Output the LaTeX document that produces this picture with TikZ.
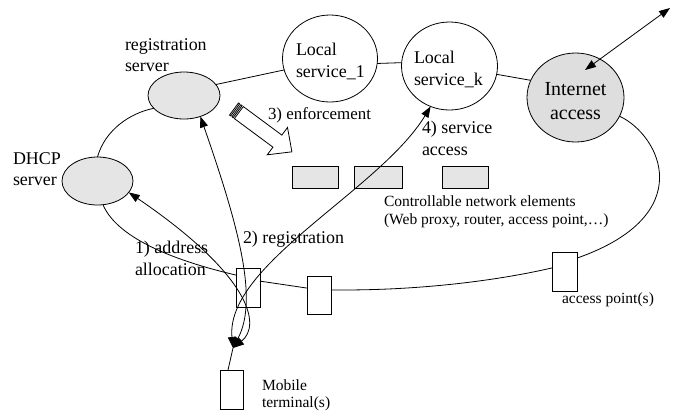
\documentclass[tikz,border=0pt]{standalone}
\usepackage{fontspec}
\setmainfont{Liberation Serif}[Ligatures=TeX]
\newfontfamily\tms{Liberation Serif}
\usetikzlibrary{shapes.geometric,arrows.meta,calc}
\definecolor{srvgray}{gray}{0.9}
\definecolor{inetgray}{gray}{0.87}
\begin{document}
\begin{tikzpicture}[x=1bp,y=-1bp,line width=0.8bp,
  every node/.style={inner sep=0pt,outer sep=0pt},
  srv/.style={ellipse,draw,fill=srvgray},
  svc/.style={ellipse,draw,fill=white},
  bigtxt/.style={font=\tms\fontsize{18}{21}\selectfont,anchor=base west},
  midtxt/.style={font=\tms\fontsize{17}{20}\selectfont,anchor=base west},
  smalltxt/.style={font=\tms\fontsize{15.6}{18}\selectfont,anchor=base west},
  inettxt/.style={font=\tms\fontsize{20}{24}\selectfont,anchor=base},
  boxnode/.style={rectangle,draw,minimum width=24bp,minimum height=39bp},
  nelem/.style={rectangle,draw,fill=srvgray,minimum height=22bp},
  tipped/.style={{Triangle[length=11bp,width=8bp]}-{Triangle[length=11bp,width=8bp]}}
]
\useasboundingbox (0,0) rectangle (678,411);

% servers and services
\node[srv,minimum width=72bp,minimum height=47bp] (reg) at (184,95.5) {};
\node[srv,minimum width=71bp,minimum height=48bp] (dhcp) at (97.5,181) {};
\node[svc,minimum width=95bp,minimum height=87bp] (ls1) at (330,58.5) {};
\node[svc,minimum width=96bp,minimum height=88bp] (lsk) at (449.5,66) {};
\node[ellipse,draw,fill=inetgray,minimum width=97bp,minimum height=89bp] (inet) at (575.5,97.5) {};

% network element boxes
\node[nelem,minimum width=46bp] (ne1) at (315,177) {};
\node[nelem,minimum width=48bp] (ne2) at (378,177) {};
\node[nelem,minimum width=46bp] (ne3) at (465,177) {};

% access points and terminal
\node[boxnode,minimum width=25bp] (ap) at (564.5,271.5) {};
\node[boxnode,minimum height=38bp] (mb) at (319,295) {};
\node[boxnode] (lb) at (248,287.5) {};
\node[boxnode,minimum width=23bp] (term) at (231.5,389.5) {};

% texts
\node[bigtxt] (tr1) at (125,50) {registration};
\node[bigtxt] (tr2) at (125,71) {server};
\node[bigtxt] (td1) at (13,164) {DHCP};
\node[bigtxt] (td2) at (13,185) {server};
\node[bigtxt] (tl1) at (296,55) {Local};
\node[bigtxt] (tl2) at (296,77) {service\_1};
\node[bigtxt] (tk1) at (414,63) {Local};
\node[bigtxt] (tk2) at (414,85) {service\_k};
\node[inettxt] (ti1) at (575.5,95) {Internet};
\node[inettxt] (ti2) at (575.5,119) {access};
\node[midtxt] (t3) at (268,119) {3) enforcement};
\node[bigtxt] (t4a) at (422,133) {4) service};
\node[bigtxt] (t4b) at (422,155) {access};
\node[bigtxt] (t2) at (243,243) {2) registration};
\node[bigtxt] (t1a) at (135,253) {1) address};
\node[bigtxt] (t1b) at (135,275) {allocation};
\node[smalltxt] (tc1) at (384,206) {Controllable network elements};
\node[smalltxt] (tc2) at (384,224) {(Web proxy, router, access point,…)};
\node[smalltxt] (tap) at (562,303) {access point(s)};
\node[smalltxt] (tm1) at (262,390) {Mobile};
\node[smalltxt] (tm2) at (262,407) {terminal(s)};

% ring connections
\draw (reg.19) -- (ls1.194);
\draw (ls1.-6) -- (lsk.176);
\draw (lsk.-10) -- (inet.159);
\draw (inet.-23) .. controls (660,135) and (700,215) .. (ap.47);
\draw (ap.164) .. controls (500,280) and (420,291) .. (mb.23);
\draw (mb.150) -- (lb.28);
\draw (lb.134) .. controls (180,262) and (118,240) .. (dhcp.-77);
\draw (dhcp.90) .. controls (105,130) and (130,113) .. (reg.203);

% mobile terminal arrows
\coordinate (mt) at (233,348);
\draw ($(term.north)+(-3.5,0)$) -- (mt);
\draw[tipped] (dhcp.-20) .. controls (250,275) and (262,325) .. (mt);
\draw[tipped] (reg.-52) .. controls (240,230) and (258,300) .. (mt);
\draw[tipped] (lsk.-115) .. controls (380,190) and (225,265) .. (mt);

% internet link
\coordinate (inettip) at (585,70);
\coordinate (sky) at (670,8);
\draw[tipped] (inettip) -- (sky);

% enforcement block arrow
\begin{scope}[shift={(234,109)},rotate=-36.5]
  \draw[fill=white] (0,-7.5) rectangle (1.5,7.5);
  \draw[fill=white] (3,-7.5) rectangle (4.5,7.5);
  \draw[fill=white] (6,-7.5) -- (54,-7.5) -- (54,-17) -- (72,0) -- (54,17) -- (54,7.5) -- (6,7.5) -- cycle;
\end{scope}
\end{tikzpicture}
\end{document}
